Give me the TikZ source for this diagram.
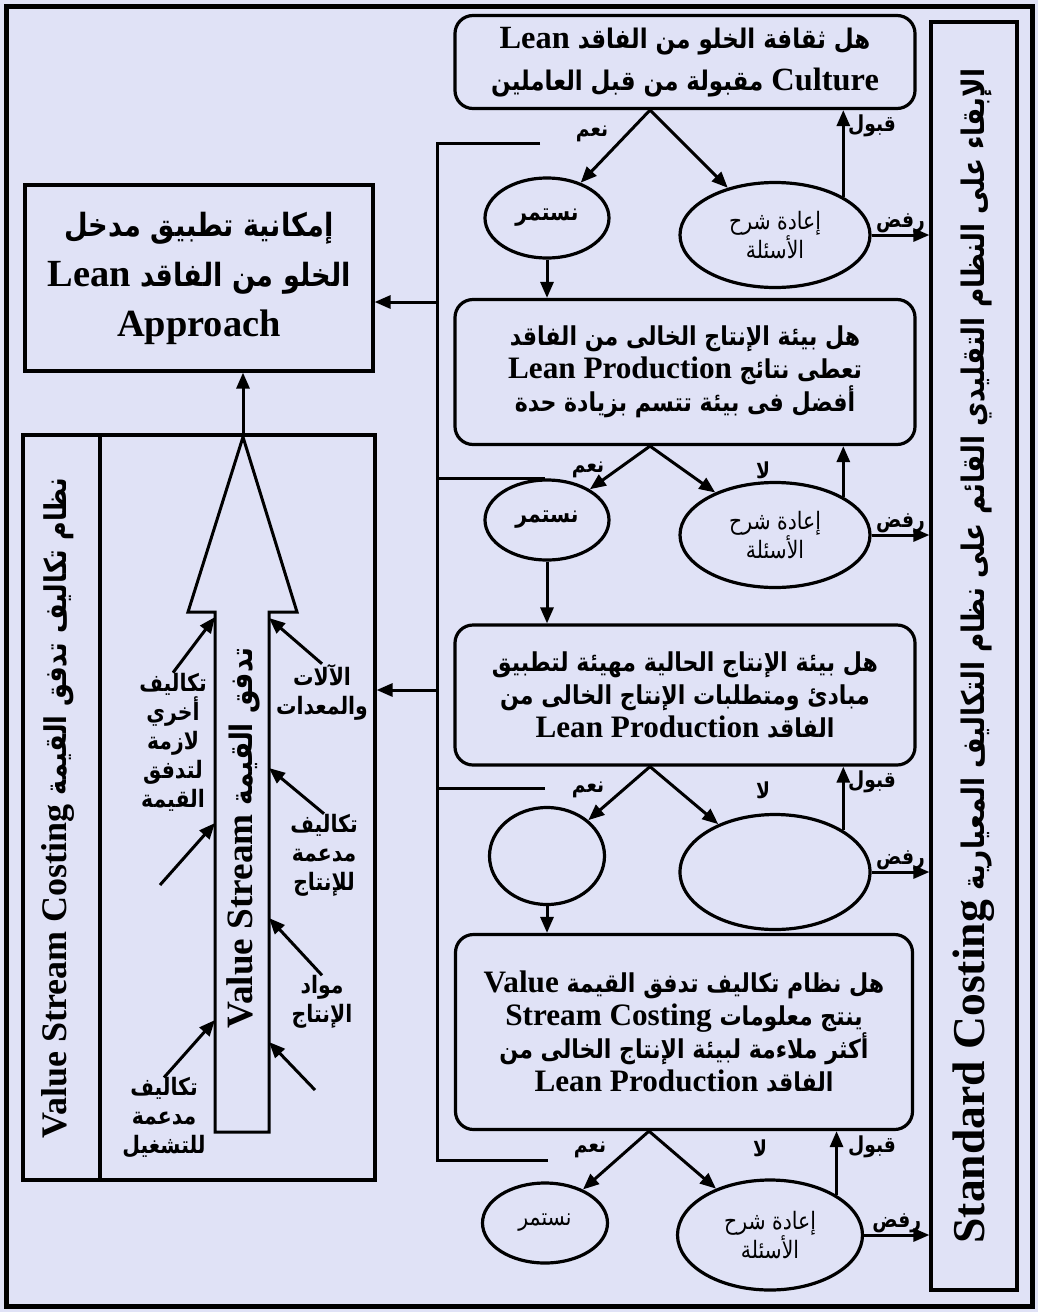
\documentclass[tikz,border=0pt]{standalone}
\usepackage{fontspec}
\setmainfont{Liberation Serif}
\newfontfamily\arabicfont[Script=Arabic, FakeStretch=0.85]{DejaVu Sans}
\newfontfamily\latinfont[Scale=1.2]{Liberation Serif}
\TeXXeTstate=1
\usetikzlibrary{positioning, calc, arrows.meta, shapes.geometric}

\definecolor{paper}{RGB}{224,226,246}
\newcommand{\ar}[1]{{\arabicfont\beginR #1\endR}}
\newcommand{\en}[1]{\beginL{\latinfont #1}\endL}

\begin{document}
\begin{tikzpicture}[
    x=1pt, y=-1pt,
    question/.style={
        draw,
        line width=3.2pt,
        rounded corners=18pt,
        align=center,
        inner sep=0pt,
        minimum width=460pt,
        font=\bfseries\fontsize{26}{33}\selectfont,
    },
    answer/.style={
        draw,
        ellipse,
        line width=3.2pt,
        align=center,
        inner sep=0pt,
        font=\fontsize{24}{28}\selectfont,
    },
    panel/.style={
        draw,
        line width=3.2pt,
        inner sep=0pt,
        align=center,
    },
    tag/.style={
        font=\bfseries\fontsize{22}{24}\selectfont,
        inner sep=1pt,
    },
    cost/.style={
        align=center,
        inner sep=0pt,
        font=\bfseries\fontsize{24}{29}\selectfont,
    },
    arrow/.style={
        -{Triangle[length=16pt,width=13pt]},
        line width=3pt,
    },
    line/.style={
        line width=3pt,
    },
]

    \fill[paper] (0,0) rectangle (1038,1312);
    \useasboundingbox (0,0) rectangle (1038,1312);
    \draw[line width=5pt] (6,6) rectangle (1032,1306);

    \node[panel, minimum width=86pt, minimum height=1268pt] (side) at (974,656) {};
    \node[rotate=90, font=\bfseries\fontsize{31}{40}\selectfont] (sidetext) at (side.center)
        {\ar{الإبقاء على النظام التقليدي القائم على نظام التكاليف المعيارية \en{\fontsize{38}{40}\selectfont Standard Costing}}};

    \node[question, minimum height=93pt, font=\bfseries\fontsize{27}{42}\selectfont] (q1) at (685,62)
        {\ar{هل ثقافة الخلو من الفاقد \en{Lean}}\\\ar{\en{Culture} مقبولة من قبل العاملين}};
    \node[answer, minimum width=124pt, minimum height=80pt, font=\bfseries\fontsize{24}{28}\selectfont] (go1) at (547,218) {\ar{نستمر}};
    \node[answer, minimum width=190pt, minimum height=105pt] (redo1) at (775,235) {\ar{إعادة شرح}\\\ar{الأسئلة}};

    \node[question, minimum height=145pt] (q2) at (685,372)
        {\ar{هل بيئة الإنتاج الخالى من الفاقد}\\\ar{تعطى نتائج \en{Lean Production}}\\\ar{أفضل فى بيئة تتسم بزيادة حدة}};
    \node[answer, minimum width=124pt, minimum height=80pt, font=\bfseries\fontsize{24}{28}\selectfont] (go2) at (547,520) {\ar{نستمر}};
    \node[answer, minimum width=190pt, minimum height=105pt] (redo2) at (775,535) {\ar{إعادة شرح}\\\ar{الأسئلة}};

    \node[question, minimum height=140pt] (q3) at (685,695)
        {\ar{هل بيئة الإنتاج الحالية مهيئة لتطبيق}\\\ar{مبادئ ومتطلبات الإنتاج الخالى من}\\\ar{الفاقد \en{Lean Production}}};
    \node[answer, minimum width=115pt, minimum height=97pt] (go3) at (547,856) {};
    \node[answer, minimum width=190pt, minimum height=115pt] (redo3) at (775,872) {};

    \node[question, minimum width=457pt, minimum height=195pt] (q4) at (684,1032)
        {\ar{هل نظام تكاليف تدفق القيمة \en{Value}}\\\ar{ينتج معلومات \en{Stream Costing}}\\\ar{أكثر ملاءمة لبيئة الإنتاج الخالى من}\\\ar{الفاقد \en{Lean Production}}};
    \node[answer, minimum width=125pt, minimum height=80pt] (go4) at (545,1223) {\ar{نستمر}};
    \node[answer, minimum width=185pt, minimum height=110pt] (redo4) at (770,1235) {\ar{إعادة شرح}\\\ar{الأسئلة}};

    \foreach \q/\go/\redo in {q1/go1/redo1, q2/go2/redo2, q3/go3/redo3, q4/go4/redo4} {
        \draw[arrow] ([xshift=-35pt]\q.south) -- (\go);
        \draw[arrow] ([xshift=-35pt]\q.south) -- (\redo);
        \draw[arrow] (\redo.north east) -- (\redo.north east |- \q.south);
        \draw[arrow] (\redo.east) -- node[tag, above] {\ar{رفض}} (\redo.east -| side.west);
    }
    \draw[arrow] (go1.south) -- (go1.south |- q2.north);
    \draw[arrow] (go2.south) -- (go2.south |- q3.north);
    \draw[arrow] (go3.south) -- (go3.south |- q4.north);

    \node[tag] (yes1) at (592,134) {\ar{نعم}};
    \node[tag] (yes2) at (588,470) {\ar{نعم}};
    \node[tag] (yes3) at (588,790) {\ar{نعم}};
    \node[tag] (yes4) at (590,1150) {\ar{نعم}};
    \node[tag] (no2) at (763,470) {\ar{لا}};
    \node[tag] (no3) at (763,790) {\ar{لا}};
    \node[tag] (no4) at (760,1148) {\ar{لا}};
    \node[tag] (ok1) at (872,126) {\ar{قبول}};
    \node[tag] (ok3) at (872,782) {\ar{قبول}};
    \node[tag] (ok4) at (872,1147) {\ar{قبول}};

    \node[panel, minimum width=348pt, minimum height=186pt, font=\bfseries\fontsize{32}{50}\selectfont] (lean) at (199,278)
        {\ar{إمكانية تطبيق مدخل}\\\ar{الخلو من الفاقد \en{Lean}}\\\en{Approach}};

    \node[panel, minimum width=352pt, minimum height=745pt] (vsc) at (199,807.5) {};
    \node[panel, minimum width=77pt, minimum height=745pt] (strip) at (61.5,807.5) {};
    \node[rotate=90, font=\bfseries\fontsize{30}{40}\selectfont] (striptext) at (58,808)
        {\ar{نظام تكاليف تدفق القيمة \en{Value Stream Costing}}};

    \coordinate (bustop) at (437,143);
    \coordinate (busbot) at (437,1160);
    \coordinate (stub1) at (540,143);
    \coordinate (stub2) at (545,478);
    \coordinate (stub3) at (545,788);
    \coordinate (stub4) at (548,1160);
    \draw[line] (stub1) -- (bustop) -- (busbot) -- (stub4);
    \draw[line] (bustop |- stub2) -- (stub2);
    \draw[line] (bustop |- stub3) -- (stub3);
    \coordinate (tap1) at (437,302);
    \coordinate (tap2) at (437,690);
    \draw[arrow] (tap1) -- (tap1 -| lean.east);
    \draw[arrow] (tap2) -- (tap2 -| vsc.east);

    \coordinate (tip) at (243,437);
    \draw[line, fill=paper] (215,1132) -- (215,612) -- (188,612) -- (tip) -- (297,612) -- (269,612) -- (269,1132) -- cycle;
    \node[rotate=90, font=\bfseries\fontsize{31}{40}\selectfont] (flow) at (243,838)
        {\ar{تدفق القيمة \en{Value Stream}}};
    \draw[arrow] (tip) -- (tip |- lean.south);

    \node[cost] (other) at (173,742) {\ar{تكاليف}\\\ar{أخري}\\\ar{لازمة}\\\ar{لتدفق}\\\ar{القيمة}};
    \node[cost] (machines) at (322,692) {\ar{الآلات}\\\ar{والمعدات}};
    \node[cost] (support) at (324,855) {\ar{تكاليف}\\\ar{مدعمة}\\\ar{للإنتاج}};
    \node[cost] (material) at (322,1002) {\ar{مواد}\\\ar{الإنتاج}};
    \node[cost] (operate) at (164,1118) {\ar{تكاليف}\\\ar{مدعمة}\\\ar{للتشغيل}};
    \coordinate (free1) at (160,885);
    \coordinate (free2) at (315,1090);

    \draw[arrow] (other.north) -- (215,617);
    \draw[arrow] (free1) -- (215,823);
    \draw[arrow] (operate.north) -- (215,1020);
    \draw[arrow] (machines.north) -- (269,618);
    \draw[arrow] (support.north) -- (269,768);
    \draw[arrow] (material.north) -- (269,918);
    \draw[arrow] (free2) -- (269,1042);

\end{tikzpicture}
\end{document}
